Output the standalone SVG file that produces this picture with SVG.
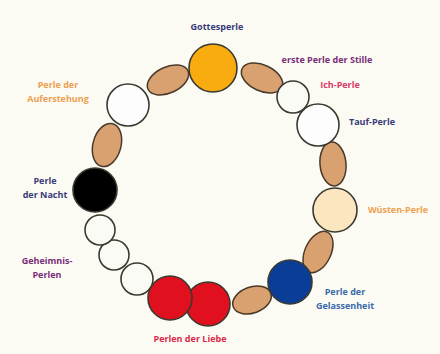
<svg xmlns="http://www.w3.org/2000/svg" width="440" height="354" viewBox="0 0 440 354">
<style>
text{font-family:"Open Sans","Liberation Sans",sans-serif;font-size:9px;font-weight:bold;text-anchor:middle}
.bead{stroke:#3a3a30;stroke-width:1.6}
.oval{fill:#d9a070;stroke:#4a3a2a;stroke-width:1.5}
.navy{fill:#3a3c7a}.purple{fill:#7a2e7a}.pink{fill:#d8386a}.orange{fill:#eea050}.blue{fill:#3a6aaa}.red{fill:#d82a4a}
</style>
<rect width="440" height="354" fill="#fbfbf3"/>
<g id="connectors">
<ellipse class="oval" cx="168" cy="80" rx="22" ry="13" transform="rotate(-25 168 80)"/>
<ellipse class="oval" cx="262" cy="78" rx="22" ry="13" transform="rotate(25 262 78)"/>
<ellipse class="oval" cx="107" cy="145" rx="14" ry="22" transform="rotate(15 107 145)"/>
<ellipse class="oval" cx="333" cy="164" rx="13" ry="22" transform="rotate(-5 333 164)"/>
<ellipse class="oval" cx="318" cy="252" rx="13" ry="22" transform="rotate(25 318 252)"/>
<ellipse class="oval" cx="252" cy="300" rx="20" ry="13" transform="rotate(-20 252 300)"/>
</g>
<g id="gottesperle"><circle class="bead" cx="213" cy="68" r="24" fill="#f9ac10"/><text class="navy" x="217" y="30">Gottesperle</text></g>
<g id="stille"><text class="purple" x="327" y="63">erste Perle der Stille</text></g>
<g id="ich"><circle class="bead" cx="293" cy="97" r="16" fill="#fbfbf6"/><text class="pink" x="340" y="88">Ich-Perle</text></g>
<g id="tauf"><circle class="bead" cx="318" cy="125" r="21" fill="#fdfdfd"/><text class="navy" x="372" y="125">Tauf-Perle</text></g>
<g id="wuesten"><circle class="bead" cx="335" cy="210" r="22" fill="#fbe6c0"/><text class="orange" x="398" y="213">Wüsten-Perle</text></g>
<g id="gelassenheit"><circle class="bead" cx="290" cy="282" r="22" fill="#0a3e96"/><text class="blue" x="345" y="295">Perle der</text><text class="blue" x="345" y="309">Gelassenheit</text></g>
<g id="liebe"><circle class="bead" cx="208" cy="304" r="22" fill="#e0101e"/><circle class="bead" cx="170" cy="298" r="22" fill="#e0101e"/><text class="red" x="190" y="342">Perlen der Liebe</text></g>
<g id="geheimnis"><circle class="bead" cx="137" cy="279" r="16" fill="#fbfbf6"/><circle class="bead" cx="114" cy="255" r="15" fill="#fbfbf6"/><circle class="bead" cx="100" cy="230" r="15" fill="#fbfbf6"/><text class="purple" x="47" y="264">Geheimnis-</text><text class="purple" x="47" y="278">Perlen</text></g>
<g id="nacht"><circle class="bead" cx="95" cy="190" r="22" fill="#000"/><text class="navy" x="45" y="184">Perle</text><text class="navy" x="45" y="198">der Nacht</text></g>
<g id="auferstehung"><circle class="bead" cx="128" cy="105" r="21" fill="#fdfdfd"/><text class="orange" x="58" y="88">Perle der</text><text class="orange" x="58" y="102">Auferstehung</text></g>
</svg>
